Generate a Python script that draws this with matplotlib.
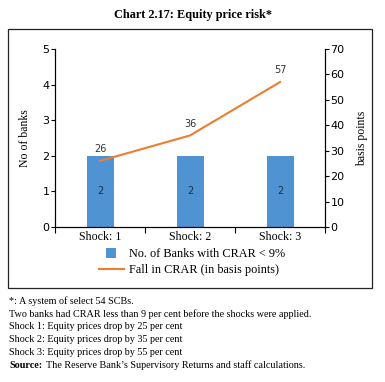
import numpy as np
from matplotlib import pyplot as plt
from matplotlib.patches import Rectangle
from matplotlib.lines import Line2D

shocks = ['Shock: 1', 'Shock: 2', 'Shock: 3']
banks = [2, 2, 2]
fall_bp = [26, 36, 57]

notes = ['*: A system of select 54 SCBs.',
         'Two banks had CRAR less than 9 per cent before the shocks were applied.',
         'Shock 1: Equity prices drop by 25 per cent',
         'Shock 2: Equity prices drop by 35 per cent',
         'Shock 3: Equity prices drop by 55 per cent']
source = 'The Reserve Bank\u2019s Supervisory Returns and staff calculations.'

serif = 'Liberation Serif'
blue = '#4f93d2'
orange = '#ed7d31'

fig = plt.figure(figsize=(3.85, 3.82), dpi=100)
W, H = 385, 382

# frame round the chart
fig.patches.append(Rectangle((8 / W, 1 - 288 / H), 364 / W, 259 / H,
                             transform=fig.transFigure, fill=False,
                             edgecolor='#222222', linewidth=0.9))

fig.text(0.5, 1 - 15 / H, 'Chart 2.17: Equity price risk*', ha='center', va='center',
         family=serif, fontsize=8.8, fontweight='bold')

ax1 = fig.add_axes([55 / W, 1 - 227 / H, 270 / W, 178 / H])
ax2 = ax1.twinx()

x = np.arange(len(shocks))
ax1.bar(x, banks, width=0.3, color=blue, zorder=2)
for xi, b in zip(x, banks):
    ax1.text(xi, b / 2, str(b), ha='center', va='center', fontsize=7, color='#1f2f3f')

ax2.plot(x, fall_bp, color=orange, linewidth=1.5)
for xi, v in zip(x, fall_bp):
    ax2.annotate(str(v), (xi, v), xytext=(0, 5), textcoords='offset points',
                 ha='center', va='bottom', fontsize=7, color='#333333')

ax1.set_xlim(-0.5, 2.5)
ax1.set_ylim(0, 5)
ax2.set_ylim(0, 70)
ax1.set_yticks(range(0, 6))
ax2.set_yticks(range(0, 71, 10))
ax1.set_xticks(x)
ax1.set_xticklabels(shocks, family=serif, fontsize=8.6)
ax1.set_xticks([-0.5, 0.5, 1.5, 2.5], minor=True)
ax1.tick_params(axis='x', which='major', length=0, pad=3)
ax1.tick_params(axis='x', which='minor', length=4, width=0.8)
ax1.tick_params(axis='y', labelsize=8, length=3, width=0.8, pad=1)
ax2.tick_params(axis='y', labelsize=8, length=3, width=0.8, pad=1)

ax1.set_ylabel('No of banks', family=serif, fontsize=8.5, labelpad=8)
ax2.set_ylabel('basis points', family=serif, fontsize=8.5, labelpad=8)

for a in (ax1, ax2):
    a.spines['top'].set_visible(False)
    for s in ('left', 'right', 'bottom'):
        a.spines[s].set_linewidth(0.8)

handles = [Line2D([0], [0], marker='s', linestyle='none', markersize=7,
                  color=blue, markeredgewidth=0),
           Line2D([0], [0], color=orange, linewidth=1.5)]
fig.legend(handles, ['No. of Banks with CRAR < 9%', 'Fall in CRAR (in basis points)'],
           loc='center', bbox_to_anchor=(192 / W, 1 - 262 / H), frameon=False,
           prop={'family': serif, 'size': 8.8}, handlelength=2.0,
           labelspacing=0.3, handletextpad=0.4)

y0 = 301
for i, line in enumerate(notes):
    fig.text(9 / W, 1 - (y0 + i * 12.8) / H, line, ha='left', va='center',
             family=serif, fontsize=7.3)
fig.text(9 / W, 1 - (y0 + 5 * 12.8) / H, 'Source:', ha='left', va='center',
         family=serif, fontsize=7.3, fontweight='bold')
fig.text(46 / W, 1 - (y0 + 5 * 12.8) / H, source, ha='left', va='center',
         family=serif, fontsize=7.3)

fig.savefig('out.png', dpi=100)
